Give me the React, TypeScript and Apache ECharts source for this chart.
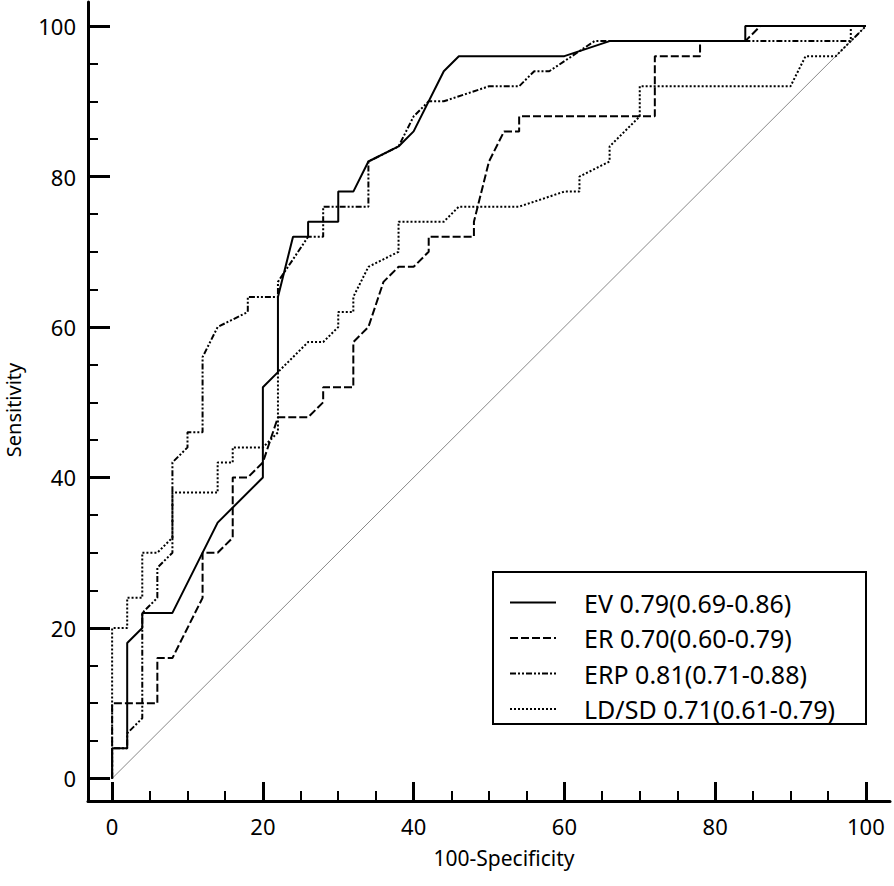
import React, { useEffect, useRef } from "react";
import * as echarts from "echarts";

const seriesNames = [
  "EV 0.79(0.69-0.86)",
  "ER 0.70(0.60-0.79)",
  "ERP 0.81(0.71-0.88)",
  "LD/SD 0.71(0.61-0.79)",
];

const evPoints = [
  [0, 0], [0, 4], [2, 4], [2, 18], [4, 20], [4, 22], [8, 22], [14, 34], [20, 40], [20, 52],
  [22, 54], [22, 64], [24, 72], [26, 72], [26, 74], [30, 74], [30, 78], [32, 78], [34, 82],
  [38, 84], [40, 86], [44, 94], [46, 96], [60, 96], [66, 98], [84, 98], [84, 100], [100, 100],
];

const erPoints = [
  [0, 0], [0, 10], [6, 10], [6, 16], [8, 16], [12, 24], [12, 30], [14, 30], [16, 32], [16, 40],
  [18, 40], [20, 42], [22, 48], [26, 48], [28, 50], [28, 52], [32, 52], [32, 58], [34, 60],
  [36, 66], [38, 68], [40, 68], [42, 70], [42, 72], [48, 72], [48, 74], [50, 82], [52, 86],
  [54, 86], [54, 88], [72, 88], [72, 96], [78, 96], [78, 98], [84, 98], [86, 100], [100, 100],
];

const erpPoints = [
  [0, 0], [0, 4], [2, 4], [2, 6], [4, 8], [4, 22], [6, 24], [6, 28], [8, 30], [8, 42], [10, 44],
  [10, 46], [12, 46], [12, 56], [14, 60], [18, 62], [18, 64], [22, 64], [22, 66], [26, 72],
  [28, 72], [28, 76], [34, 76], [34, 82], [38, 84], [40, 88], [42, 90], [44, 90], [50, 92],
  [54, 92], [56, 94], [58, 94], [64, 98], [98, 98], [100, 100],
];

const ldsdPoints = [
  [0, 0], [0, 20], [2, 20], [2, 24], [4, 24], [4, 30], [6, 30], [8, 32], [8, 38], [14, 38],
  [14, 42], [16, 42], [16, 44], [20, 44], [22, 46], [22, 54], [26, 58], [28, 58], [30, 60],
  [30, 62], [32, 62], [32, 64], [34, 68], [38, 70], [38, 74], [44, 74], [46, 76], [54, 76],
  [60, 78], [62, 78], [62, 80], [66, 82], [66, 84], [70, 88], [70, 92], [90, 92], [92, 96],
  [96, 96], [98, 98], [98, 100], [100, 100],
];

const referencePoints = [[0, 0], [100, 100]];

const majorTicks = [0, 20, 40, 60, 80, 100];
const minorTicks = [5, 10, 15, 25, 30, 35, 45, 50, 55, 65, 70, 75, 85, 90, 95];

const xTitle = "100-Specificity";
const yTitle = "Sensitivity";

const FONT = "'Noto Sans', 'Open Sans', sans-serif";

export default function App() {
  const ref = useRef<HTMLDivElement>(null);

  useEffect(() => {
    const chart = echarts.init(ref.current!, null, { renderer: "svg" });

    const mainAxis = (isX: boolean) => ({
      type: "value",
      min: isX ? -3.2 : -3,
      max: 103.2,
      position: isX ? "bottom" : "left",
      axisLine: { show: true, onZero: false, lineStyle: { color: "#000", width: 3 } },
      axisTick: {
        show: true,
        inside: true,
        length: isX ? 19 : 22,
        lineStyle: { color: "#000", width: 3 },
        customValues: majorTicks,
      },
      axisLabel: {
        show: true,
        customValues: majorTicks,
        fontSize: 22,
        color: "#000",
        fontFamily: FONT,
        margin: isX ? 14 : 12,
      },
      splitLine: { show: false },
    });

    const minorAxis = (isX: boolean) => ({
      type: "value",
      min: isX ? -3.2 : -3,
      max: 103.2,
      position: isX ? "bottom" : "left",
      axisLine: { show: false, onZero: false },
      axisTick: {
        show: true,
        inside: true,
        length: 10,
        lineStyle: { color: "#000", width: 2 },
        customValues: minorTicks,
      },
      axisLabel: { show: false },
      splitLine: { show: false },
    });

    const curve = (name: string, data: number[][], type: any) => ({
      name,
      type: "line",
      data,
      symbol: "none",
      showSymbol: false,
      silent: true,
      lineStyle: { color: "#000", width: 2, type },
      itemStyle: { color: "rgba(0,0,0,0)", borderWidth: 0 },
    });

    chart.setOption({
      animation: false,
      backgroundColor: "#fff",
      grid: { left: 88, right: 4, top: 2, bottom: 85, containLabel: false },
      xAxis: [mainAxis(true), minorAxis(true)],
      yAxis: [mainAxis(false), minorAxis(false)],
      legend: {
        data: seriesNames,
        orient: "vertical",
        left: 509,
        top: 590,
        padding: 0,
        itemWidth: 46,
        itemHeight: 14,
        itemGap: 10.5,
        selectedMode: false,
        itemStyle: { color: "rgba(0,0,0,0)", borderColor: "rgba(0,0,0,0)", borderWidth: 0 },
        lineStyle: { color: "#000", width: 2 },
        textStyle: {
          fontSize: 25,
          lineHeight: 24,
          color: "#000",
          fontFamily: FONT,
          padding: [0, 0, 0, 23],
        },
      },
      graphic: [
        {
          type: "rect",
          shape: { x: 493, y: 572, width: 373, height: 152 },
          style: { fill: "none", stroke: "#000", lineWidth: 2 },
          silent: true,
        },
        {
          type: "text",
          x: 504,
          y: 858,
          style: {
            text: xTitle,
            fontSize: 21,
            fontFamily: FONT,
            fill: "#000",
            textAlign: "center",
            textVerticalAlign: "middle",
          },
        },
        {
          type: "text",
          x: 13,
          y: 410,
          rotation: Math.PI / 2,
          style: {
            text: yTitle,
            fontSize: 20,
            fontFamily: FONT,
            fill: "#000",
            textAlign: "center",
            textVerticalAlign: "middle",
          },
        },
      ],
      series: [
        {
          name: "reference",
          type: "line",
          data: referencePoints,
          symbol: "none",
          silent: true,
          lineStyle: { color: "#888", width: 1 },
        },
        curve(seriesNames[0], evPoints, "solid"),
        curve(seriesNames[1], erPoints, [8, 3]),
        curve(seriesNames[2], erpPoints, [6, 2, 2, 2, 2, 2]),
        curve(seriesNames[3], ldsdPoints, [2, 2]),
      ],
    });

    return () => chart.dispose();
  }, []);

  return (
    <div
      ref={ref}
      style={{ position: "absolute", left: 0, top: 0, width: 894, height: 886 }}
    />
  );
}
